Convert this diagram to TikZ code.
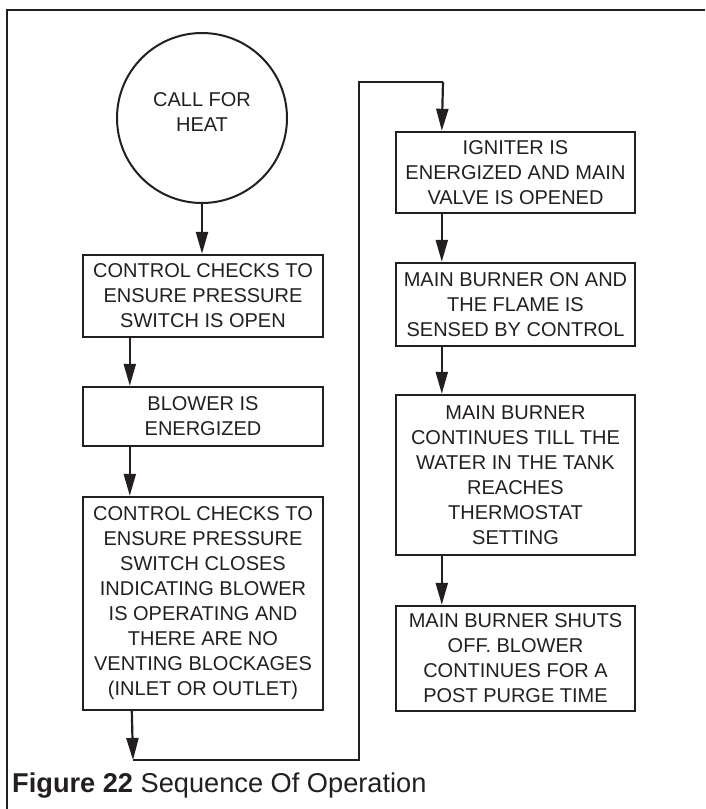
\documentclass[tikz,border=0pt]{standalone}
\usepackage{fontspec}
\setmainfont{Liberation Sans}
\usetikzlibrary{arrows.meta}
\definecolor{ink}{HTML}{231F20}
\begin{document}
\begin{tikzpicture}[x=1pt,y=-1pt,
  every node/.style={text=ink},
  stepbox/.style={draw=ink, line width=2.4pt, rectangle, align=center, inner sep=0pt,
    font=\fontsize{20}{25}\selectfont},
  startc/.style={draw=ink, line width=2pt, circle, inner sep=0pt, minimum size=170pt},
  txt/.style={align=center, inner sep=0pt, font=\fontsize{20}{25}\selectfont},
  arr/.style={draw=ink, line width=2.2pt, -{Triangle[length=22pt,width=12pt]}},
  ln/.style={draw=ink, line width=2.2pt},
  frame/.style={draw=ink, line width=2.6pt}
]
\useasboundingbox (0,0) rectangle (705,809);
\draw[frame] (7,809) -- (7,10) -- (705,10);

\node[startc] (c0) at (202,118) {};
\node[txt] (c0t) at (202,112.5) {CALL FOR\\HEAT};
\node[stepbox, minimum width=240pt, minimum height=82pt] (b1) at (203,296)
  {CONTROL CHECKS TO\\ENSURE PRESSURE\\SWITCH IS OPEN};
\node[stepbox, minimum width=240pt, minimum height=59pt] (b2) at (203,416.5)
  {BLOWER IS\\ENERGIZED};
\node[stepbox, minimum width=240pt, minimum height=213pt] (b3) at (203,603.5)
  {CONTROL CHECKS TO\\ENSURE PRESSURE\\SWITCH CLOSES\\INDICATING BLOWER\\IS OPERATING AND\\THERE ARE NO\\VENTING BLOCKAGES\\(INLET OR OUTLET)};
\node[stepbox, minimum width=239pt, minimum height=81pt] (b4) at (515.5,172.5)
  {IGNITER IS\\ENERGIZED AND MAIN\\VALVE IS OPENED};
\node[stepbox, minimum width=239pt, minimum height=83pt] (b5) at (515.5,304.5)
  {MAIN BURNER ON AND\\THE FLAME IS\\SENSED BY CONTROL};
\node[stepbox, minimum width=239pt, minimum height=160pt] (b6) at (515.5,475)
  {MAIN BURNER\\CONTINUES TILL THE\\WATER IN THE TANK\\REACHES\\THERMOSTAT\\SETTING};
\node[stepbox, minimum width=239pt, minimum height=105pt] (b7) at (515.5,658.5)
  {MAIN BURNER SHUTS\\OFF. BLOWER\\CONTINUES FOR A\\POST PURGE TIME};

\coordinate (c1) at (133,760);
\coordinate (c2) at (359,760);
\coordinate (c3) at (359,82);
\coordinate (c4) at (443,82);

\draw[arr] (c0.south) -- (b1.north -| c0.south);
\draw[arr] ([xshift=48pt]b1.south west) -- ([xshift=48pt]b2.north west);
\draw[arr] ([xshift=48pt]b2.south west) -- ([xshift=48pt]b3.north west);
\draw[arr] ([xshift=50pt]b3.south west) -- (c1);
\draw[ln] (c1) -- (c2) -- (c3) -- (c4);
\draw[arr] (c4) -- ([xshift=47pt]b4.north west);
\draw[arr] ([xshift=47pt]b4.south west) -- ([xshift=47pt]b5.north west);
\draw[arr] ([xshift=47pt]b5.south west) -- ([xshift=47pt]b6.north west);
\draw[arr] ([xshift=47pt]b6.south west) -- ([xshift=47pt]b7.north west);

\node[anchor=base west, inner sep=0pt, font=\fontsize{27.2}{30}\selectfont] (cap) at (12,792)
  {\textbf{Figure 22} Sequence Of Operation};
\end{tikzpicture}
\end{document}
